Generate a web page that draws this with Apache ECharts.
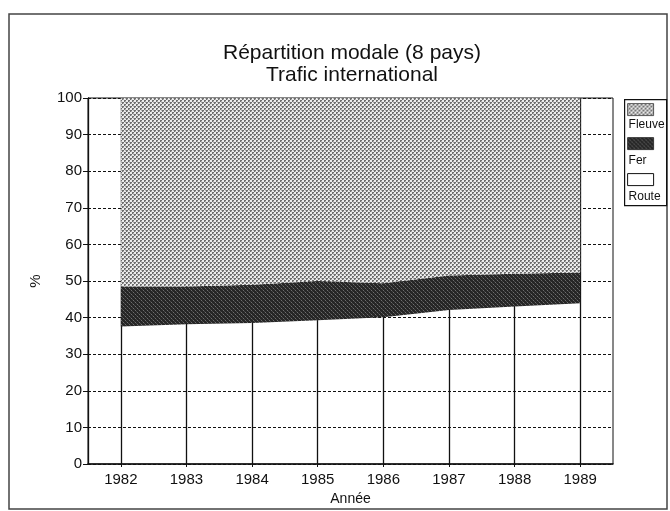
<!DOCTYPE html>
<html>
<head>
<meta charset="utf-8">
<script src="https://cdn.jsdelivr.net/npm/echarts@6/dist/echarts.min.js"></script>
<style>
  html, body { margin: 0; padding: 0; background: #fff; }
  #chart { width: 670px; height: 511px; }
</style>
</head>
<body>
<div id="chart"></div>
<script>
// data (percent of traffic, stacked to 100)
const years = [1982, 1983, 1984, 1985, 1986, 1987, 1988, 1989]
const route = [37.6, 38.2, 38.5, 39.3, 40.1, 42.1, 43.0, 43.9]
const fer = [10.9, 10.3, 10.5, 10.7, 9.3, 9.4, 9.0, 8.4]
const fleuve = [51.5, 51.5, 51.0, 50.0, 50.6, 48.5, 48.0, 47.7]
const yTicks = [0, 10, 20, 30, 40, 50, 60, 70, 80, 90, 100]

const seriesNames = ['Fleuve', 'Fer', 'Route']

// little halftone tiles, like the photocopy
function makeTile(size, paint) {
  const c = document.createElement('canvas')
  c.width = size
  c.height = size
  const ctx = c.getContext('2d')
  paint(ctx)
  return c
}
const fleuveTile = makeTile(4, ctx => {
  ctx.fillStyle = '#ececec'
  ctx.fillRect(0, 0, 4, 4)
  ctx.fillStyle = '#6e6e6e'
  ctx.fillRect(0, 0, 2, 2)
  ctx.fillRect(2, 2, 2, 2)
  ctx.fillStyle = '#b4b4b4'
  ctx.fillRect(1, 1, 1, 1)
  ctx.fillRect(3, 3, 1, 1)
  ctx.fillRect(1, 2, 1, 1)
})
const ferTile = makeTile(4, ctx => {
  ctx.fillStyle = '#262626'
  ctx.fillRect(0, 0, 4, 4)
  ctx.fillStyle = '#6e6e6e'
  ctx.fillRect(1, 0, 1, 1)
  ctx.fillRect(3, 2, 1, 1)
  ctx.fillStyle = '#484848'
  ctx.fillRect(0, 3, 1, 1)
  ctx.fillRect(2, 1, 1, 1)
})
const fleuvePattern = { image: fleuveTile, repeat: 'repeat' }
const ferPattern = { image: ferTile, repeat: 'repeat' }

const chart = echarts.init(document.getElementById('chart'), null, { renderer: 'canvas' })

const font = 'Liberation Sans, Arial, sans-serif'

const option = {
  animation: false,
  backgroundColor: '#fff',
  title: {
    text: 'Répartition modale (8 pays)\nTrafic international',
    left: 347,
    top: 37,
    textAlign: 'center',
    textStyle: {
      fontFamily: font,
      fontSize: 21,
      fontWeight: 'normal',
      lineHeight: 22,
      color: '#111'
    }
  },
  grid: {
    left: 88,
    top: 98,
    width: 525,
    height: 366,
    show: true,
    borderColor: '#111',
    borderWidth: 1,
    backgroundColor: 'transparent'
  },
  xAxis: [
    {
      // category axis that carries the stacked areas (one band per year)
      type: 'category',
      data: years,
      boundaryGap: true,
      show: false
    },
    {
      // visible year axis, same mapping as the bands' centres
      type: 'value',
      position: 'bottom',
      min: 1981.5,
      max: 1989.5,
      name: 'Année',
      nameLocation: 'middle',
      nameGap: 25,
      nameTextStyle: { fontFamily: font, fontSize: 14, color: '#111' },
      axisLine: { lineStyle: { color: '#111', width: 1.5 } },
      axisTick: { show: true, length: 3, customValues: years, lineStyle: { color: '#111' } },
      axisLabel: {
        customValues: years,
        margin: 8,
        fontFamily: font,
        fontSize: 15,
        color: '#111',
        formatter: v => String(v)
      },
      splitLine: { show: true, lineStyle: { color: '#111', width: 1.3, type: 'solid' } }
    }
  ],
  yAxis: {
    type: 'value',
    min: 0,
    max: 100,
    interval: 10,
    name: '%',
    nameLocation: 'middle',
    nameGap: 45,
    nameRotate: 90,
    nameTextStyle: { fontFamily: font, fontSize: 15, color: '#111' },
    axisLine: { show: true, lineStyle: { color: '#111', width: 1.3 } },
    axisTick: { show: true, length: 5, lineStyle: { color: '#111' } },
    axisLabel: {
      margin: 6,
      fontFamily: font,
      fontSize: 15,
      color: '#111',
      formatter: v => (yTicks.indexOf(v) >= 0 ? String(v) : '')
    },
    splitLine: { show: true, lineStyle: { color: '#111', width: 1.2, type: [3, 2] } }
  },
  series: [
    {
      name: seriesNames[2],
      type: 'line',
      xAxisIndex: 0,
      stack: 'total',
      data: route,
      showSymbol: false,
      symbol: 'none',
      lineStyle: { width: 0, opacity: 0 },
      z: 2
    },
    {
      name: seriesNames[1],
      type: 'line',
      xAxisIndex: 0,
      stack: 'total',
      data: fer,
      showSymbol: false,
      symbol: 'none',
      lineStyle: { width: 0, opacity: 0 },
      areaStyle: { color: ferPattern, opacity: 1 },
      z: 3
    },
    {
      name: seriesNames[0],
      type: 'line',
      xAxisIndex: 0,
      stack: 'total',
      data: fleuve,
      showSymbol: false,
      symbol: 'none',
      lineStyle: { width: 0, opacity: 0 },
      areaStyle: { color: fleuvePattern, opacity: 1 },
      z: 3
    }
  ],
  graphic: [
    {
      type: 'rect',
      shape: { x: 9, y: 14, width: 658, height: 495 },
      style: { fill: 'none', stroke: '#444', lineWidth: 1.5 },
      silent: true
    },
    // legend box: swatch above each name
    {
      type: 'group',
      left: 624,
      top: 99,
      children: [
        { type: 'rect', shape: { x: 0, y: 0, width: 42, height: 106 }, style: { fill: '#fff', stroke: '#111', lineWidth: 1.2 } },
        { type: 'rect', shape: { x: 3, y: 4, width: 26, height: 12 }, style: { fill: fleuvePattern, stroke: '#333', lineWidth: 0.8 } },
        { type: 'text', x: 4, y: 25, style: { text: seriesNames[0], font: '12px ' + font, fill: '#111', textVerticalAlign: 'middle' } },
        { type: 'rect', shape: { x: 3, y: 38, width: 26, height: 12 }, style: { fill: ferPattern, stroke: '#222', lineWidth: 0.8 } },
        { type: 'text', x: 4, y: 61, style: { text: seriesNames[1], font: '12px ' + font, fill: '#111', textVerticalAlign: 'middle' } },
        { type: 'rect', shape: { x: 3, y: 74, width: 26, height: 12 }, style: { fill: '#fff', stroke: '#111', lineWidth: 1 } },
        { type: 'text', x: 4, y: 97, style: { text: seriesNames[2], font: '12px ' + font, fill: '#111', textVerticalAlign: 'middle' } }
      ]
    }
  ]
}

chart.setOption(option)
</script>
</body>
</html>
